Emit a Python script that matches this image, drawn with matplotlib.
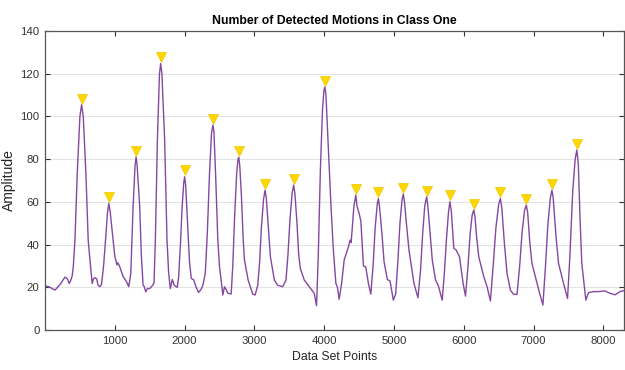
import matplotlib
matplotlib.use("Agg")
import matplotlib.pyplot as plt
import matplotlib.transforms as mtransforms

# traced signal (data set point, amplitude)
trace_x = [0, 60, 143, 220, 286, 320, 347, 372, 390, 405, 429, 462, 500, 524, 548, 586, 619,
           653, 676, 695, 714, 740, 760, 786, 810, 838, 867, 895, 914, 935, 976, 1000,
           1014, 1030, 1045, 1071, 1120, 1170, 1200, 1229, 1262, 1290, 1305, 1320, 1357,
           1380, 1405, 1420, 1443, 1470, 1500, 1530, 1562, 1581, 1610, 1640, 1657,
           1675, 1714, 1748, 1771, 1795, 1812, 1824, 1850, 1895, 1915, 1940, 1965, 1988,
           2000, 2015, 2040, 2070, 2095, 2130, 2165, 2200, 2235, 2262, 2296, 2325, 2355, 2385,
           2405, 2420, 2445, 2476, 2500, 2548, 2571, 2595, 2619, 2667, 2690, 2715, 2745, 2765,
           2776, 2790, 2815, 2840, 2857, 2910, 2976, 3010, 3048, 3075, 3100, 3130, 3152, 3170,
           3195, 3229, 3286, 3333, 3405, 3452, 3480, 3510, 3540, 3562, 3580, 3610, 3633, 3657,
           3714, 3786, 3857, 3890, 3915, 3945, 3975, 3995, 4010, 4025, 4055, 4095, 4130, 4167,
           4190, 4214, 4250, 4286, 4347, 4371, 4385, 4400, 4425, 4453, 4470, 4500, 4525, 4562,
           4595, 4633, 4667, 4700, 4730, 4760, 4776, 4795, 4830, 4857, 4905, 4943, 4990, 5024,
           5055, 5085, 5115, 5133, 5150, 5180, 5214, 5286, 5343, 5380, 5410, 5440, 5467, 5485,
           5515, 5548, 5595, 5633, 5690, 5720, 5750, 5780, 5800, 5820, 5845, 5857, 5890, 5938,
           5990, 6024, 6060, 6090, 6120, 6143, 6160, 6185, 6214, 6286, 6333, 6381, 6420, 6460,
           6500, 6524, 6545, 6580, 6619, 6667, 6714, 6762, 6800, 6835, 6870, 6895, 6915, 6945,
           6976, 7024, 7086, 7133, 7170, 7205, 7240, 7262, 7280, 7320, 7357, 7429, 7486, 7520,
           7560, 7595, 7619, 7640, 7665, 7690, 7748, 7786, 7857, 7930, 8024, 8095, 8167, 8238,
           8300]
trace_y = [20.7, 20.2, 18.7, 21.5, 24.8, 24.0, 21.8, 23.5, 25.5, 29.6, 42, 73.4, 100, 105.5, 100, 73.4, 42,
           29.6, 21.8, 24.0, 24.5, 24.0, 21.0, 20.3, 21.5, 29.6, 42, 55, 59.3, 55, 42, 34.5,
           32.8, 30.5, 31.5, 29.6, 25.0, 22.5, 20.3, 26.5, 57.7, 77, 81.1, 77, 57.7,
           35, 21.0, 20.5, 17.9, 19.5, 19.4, 20.5, 22.0, 42, 89, 120, 124.8,
           120, 89, 42, 27, 19.4, 22, 23.7, 21.0, 20.0, 25, 40, 58, 69,
           71.8, 68, 52, 32, 24.2, 23.5, 20.0, 17.6, 19.0, 21.0, 26.5, 45, 72, 92,
           96.0, 93, 72, 42, 29.7, 16.4, 20.3, 19.0, 17.2, 16.9, 30, 52, 73, 80,
           80.8, 77, 62, 42, 32.8, 23.4, 16.8, 16.4, 21.0, 32, 48, 61, 65.5, 62,
           50, 34.3, 23.4, 21.0, 20.3, 23.4, 35, 52, 64, 67.9, 64, 50, 35.9, 28.9,
           23.4, 20.3, 17.2, 11.4, 35, 75, 103, 112, 113.9, 110, 88, 59.3, 38, 21.8,
           20, 14.4, 22, 32.8, 39.0, 42.1, 41, 47, 58, 63.2, 58, 54.6, 51, 30.0,
           29.6, 21.8, 16.8, 30, 48, 59, 61.6, 57, 44, 32.0, 23.6, 23.0, 14.0, 17.0,
           32, 50, 61, 63.7, 60, 49, 37.5, 21.8, 15.1, 28, 45, 58, 62.4, 58,
           46, 32.8, 23.4, 21.0, 14.0, 26, 42, 55, 60.1, 56, 44, 38.2, 37.5, 34.3,
           21.8, 15.9, 30, 45, 54, 56.2, 53, 43, 34.3, 25.0, 20.3, 13.6, 30, 48,
           59, 61.6, 57, 41, 26.5, 18.7, 16.7, 16.7, 30, 46, 56, 58.5, 55, 41,
           31.2, 25.0, 17.2, 11.7, 30, 50, 62, 65.5, 62, 44, 31.2, 21.8, 14.8, 35,
           65, 80, 84.3, 78, 52, 31.2, 14.0, 17.5, 18.0, 18.0, 18.3, 17.2, 16.5, 18.0,
           18.5]

# detected peaks
peak_x = [524, 914, 1305, 1657, 2000, 2405, 2776, 3152, 3562, 4010,
          4453, 4776, 5133, 5467, 5800, 6143, 6524, 6895, 7262, 7619]
peak_y = [105.5, 59.3, 81.1, 124.8, 71.8, 96.0, 80.8, 65.5, 67.9, 113.9,
          63.2, 61.6, 63.7, 62.4, 60.1, 56.2, 61.6, 58.5, 65.5, 84.3]

x_ticks = [1000, 2000, 3000, 4000, 5000, 6000, 7000, 8000]
y_ticks = [0, 20, 40, 60, 80, 100, 120, 140]

plt.rcParams['font.family'] = ['Liberation Sans', 'DejaVu Sans']

fig = plt.figure(figsize=(6.25, 3.7), dpi=100)
ax = fig.add_axes([0.072, 0.108, 0.927, 0.808])

ax.plot(trace_x, trace_y, color='#84489F', linewidth=1.0)

# markers sit just above each peak, like findpeaks
marker_tr = mtransforms.offset_copy(ax.transData, fig=fig, x=0, y=4.5, units='points')
ax.plot(peak_x, peak_y, linestyle='none', marker='v', markersize=6.5,
        color='#FFD700', markeredgecolor='#F2C500', markeredgewidth=0.5,
        transform=marker_tr, zorder=3)

ax.set_xlim(0, 8300)
ax.set_ylim(0, 140)
ax.set_xticks(x_ticks)
ax.set_yticks(y_ticks)
ax.yaxis.grid(True, color='#E3E3E3', linewidth=0.8)
ax.set_axisbelow(True)

ax.tick_params(direction='in', top=True, right=True, length=3.5, width=0.8,
               colors='#333333', labelsize=8.2, labelcolor='#333333', pad=4)
for s in ax.spines.values():
    s.set_color('#555555')
    s.set_linewidth(0.9)

ax.set_xlabel("Data Set Points", fontsize=8.8, color='#262626', labelpad=4)
ax.set_ylabel("Amplitude", fontsize=10, color='#262626', labelpad=3)
ax.set_title("Number of Detected Motions in Class One", fontsize=8.8,
             fontweight='bold', color='black', pad=5)

fig.savefig("out.png", dpi=100)
